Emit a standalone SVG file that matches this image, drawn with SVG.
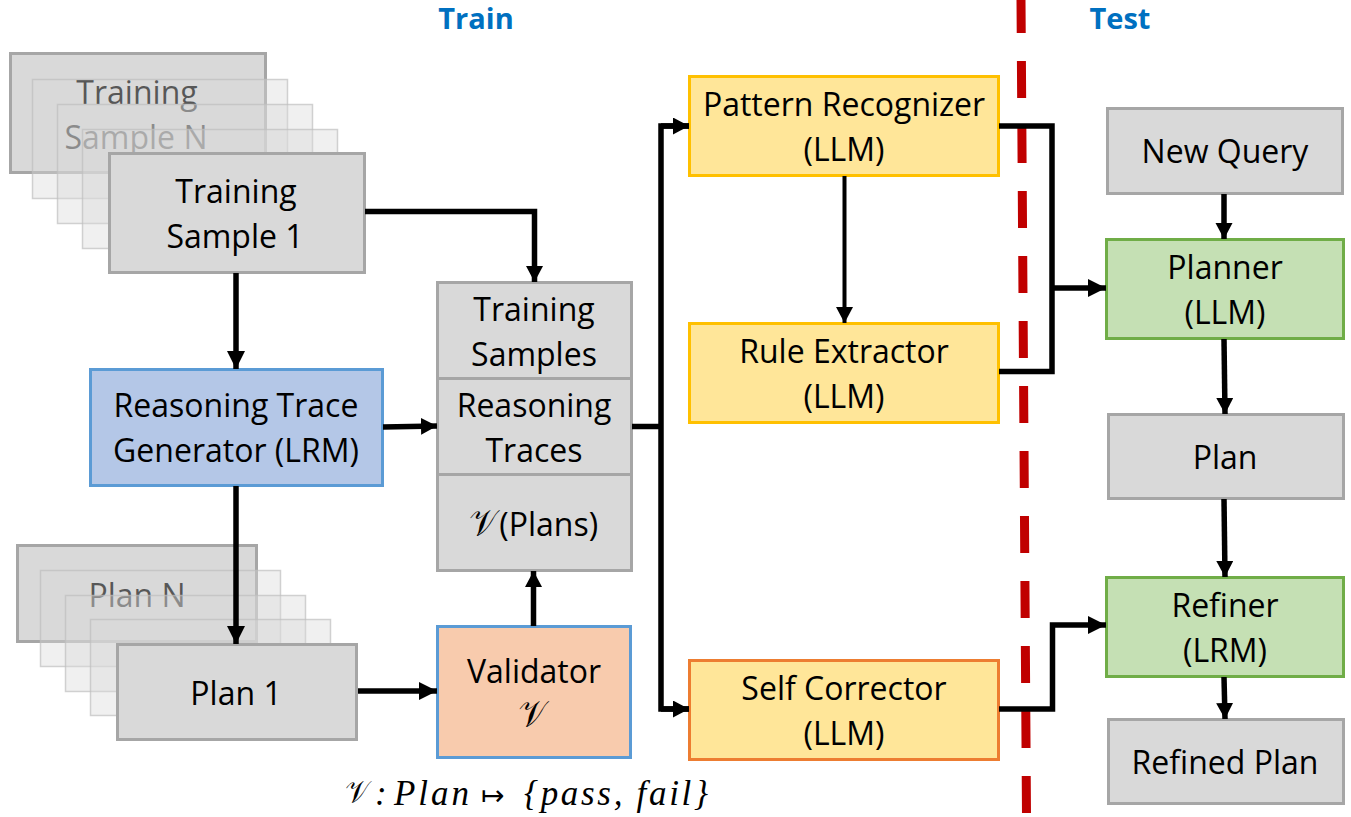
<svg xmlns="http://www.w3.org/2000/svg" width="1351" height="817" viewBox="0 0 1351 817">
<style>
text{font-family:"Open Sans","Noto Sans","Liberation Sans",sans-serif;font-size:32px;fill:#000;text-anchor:middle}
.g{fill:#d9d9d9;stroke:#a6a6a6;stroke-width:3}
.ghost{fill:#d9d9d9;fill-opacity:.4;stroke:#bfbfbf;stroke-opacity:.7;stroke-width:1.5}
.b{fill:#b4c7e7;stroke:#5b9bd5;stroke-width:3}
.o{fill:#f8cbad;stroke:#5b9bd5;stroke-width:3}
.y{fill:#ffe699;stroke:#ffc000;stroke-width:3}
.yo{fill:#ffe699;stroke:#ed7d31;stroke-width:3}
.gr{fill:#c5e0b4;stroke:#70ad47;stroke-width:3}
.h{font-weight:700;fill:#0070c0;font-size:29px}
.v{font-family:"Noto Sans Math","DejaVu Serif",serif;font-size:36px}
text.f{font-family:"Liberation Serif",serif;font-style:italic;font-size:35px;text-anchor:start}
text.n{font-family:"DejaVu Sans",sans-serif;font-size:28px;text-anchor:start}
text.vf{font-family:"Noto Sans Math","DejaVu Serif",serif;font-size:31px;text-anchor:start}
.c{fill:none;stroke:#000;stroke-width:5.500}
.c4{fill:none;stroke:#000;stroke-width:4}
</style>
<defs>
<marker id="a" markerUnits="userSpaceOnUse" markerWidth="20" markerHeight="20" refX="18" refY="9" orient="auto"><path d="M0 0L18 9L0 18Z" fill="#000"/></marker>
<marker id="s" markerUnits="userSpaceOnUse" markerWidth="18" markerHeight="18" refX="16" refY="8.500" orient="auto"><path d="M0 0L16 8.500L0 17Z" fill="#000"/></marker>
</defs>
<text class="h" x="476" y="29">Train</text>
<text class="h" x="1120" y="29">Test</text>

<g id="training-sample-n">
<rect class="g" x="10.500" y="53.500" width="255" height="119"/>
<text x="137" y="104">Training</text>
<text x="136" y="149">Sample N</text>
<rect class="ghost" x="32.500" y="79.500" width="255" height="119"/>
<rect class="ghost" x="57.500" y="104.500" width="255" height="119"/>
<rect class="ghost" x="82.500" y="129.500" width="255" height="119"/>
</g>
<g id="training-sample-1">
<rect class="g" x="109.500" y="153.500" width="255" height="119"/>
<text x="236" y="203">Training</text>
<text x="235" y="248">Sample 1</text>
</g>
<g id="plan-n">
<rect class="g" x="17.500" y="545.500" width="239" height="96"/>
<text x="137" y="607">Plan N</text>
<rect class="ghost" x="40.500" y="570.500" width="240" height="96"/>
<rect class="ghost" x="65.500" y="595.500" width="240" height="96"/>
<rect class="ghost" x="90.500" y="619.500" width="240" height="96"/>
</g>
<g id="plan-1">
<rect class="g" x="117.500" y="644.500" width="239" height="95"/>
<text x="236" y="705">Plan 1</text>
</g>
<g id="reasoning-trace-generator">
<rect class="b" x="90.500" y="369.500" width="292" height="116"/>
<text x="236" y="417">Reasoning Trace</text>
<text x="236" y="462">Generator (LRM)</text>
</g>
<g id="training-samples">
<rect class="g" x="437.500" y="282.500" width="194" height="96"/>
<text x="534" y="321">Training</text>
<text x="534" y="366">Samples</text>
</g>
<g id="reasoning-traces">
<rect class="g" x="437.500" y="378.500" width="194" height="96"/>
<text x="534" y="417">Reasoning</text>
<text x="534" y="462">Traces</text>
</g>
<g id="v-plans">
<rect class="g" x="437.500" y="474.500" width="194" height="96"/>
<text x="534" y="536"><tspan class="v">𝒱</tspan>(Plans)</text>
</g>
<g id="validator">
<rect class="o" x="437.500" y="626.500" width="193" height="131"/>
<text x="534" y="683">Validator</text>
<text class="v" x="534" y="727">𝒱</text>
</g>
<g id="validator-formula">
<text class="vf" x="346" y="803">𝒱</text>
<text class="f" x="375" y="805">:</text>
<text class="f" x="394" y="805" textLength="75" lengthAdjust="spacing">Plan</text>
<text class="n" x="481" y="805">↦</text>
<text class="f" x="524" y="805" textLength="184" lengthAdjust="spacing">{pass, fail}</text>
</g>
<g id="pattern-recognizer">
<rect class="y" x="689.500" y="76.500" width="309" height="99"/>
<text x="844" y="116">Pattern Recognizer</text>
<text x="844" y="161">(LLM)</text>
</g>
<g id="rule-extractor">
<rect class="y" x="689.500" y="323.500" width="309" height="99"/>
<text x="844" y="363">Rule Extractor</text>
<text x="844" y="408">(LLM)</text>
</g>
<g id="self-corrector">
<rect class="yo" x="689.500" y="660.500" width="309" height="99"/>
<text x="844" y="700">Self Corrector</text>
<text x="844" y="745">(LLM)</text>
</g>
<path id="divider" d="M1021 0L1026.500 817" fill="none" stroke="#c00000" stroke-width="9" stroke-dasharray="37 28" stroke-dashoffset="4"/>
<g id="new-query">
<rect class="g" x="1107.500" y="108.500" width="235" height="85"/>
<text x="1225" y="163">New Query</text>
</g>
<g id="planner">
<rect class="gr" x="1106.500" y="239.500" width="237" height="99"/>
<text x="1225" y="279">Planner</text>
<text x="1225" y="324">(LLM)</text>
</g>
<g id="plan">
<rect class="g" x="1108.500" y="414.500" width="235" height="84"/>
<text x="1225" y="469">Plan</text>
</g>
<g id="refiner">
<rect class="gr" x="1106.500" y="577.500" width="237" height="99"/>
<text x="1225" y="617">Refiner</text>
<text x="1225" y="662">(LRM)</text>
</g>
<g id="refined-plan">
<rect class="g" x="1108.500" y="719.500" width="235" height="84"/>
<text x="1225" y="774">Refined Plan</text>
</g>
<g id="connectors">
<path class="c" d="M236 273V369" marker-end="url(#a)"/>
<path class="c" d="M365 211.500H534.500V282" marker-end="url(#s)"/>
<path class="c" d="M383 427L437 426" marker-end="url(#s)"/>
<path class="c" d="M236 486V644" marker-end="url(#a)"/>
<path class="c" d="M358 691H437" marker-end="url(#a)"/>
<path class="c" d="M533.500 626V571" marker-end="url(#s)"/>
<path class="c" d="M632 426.500H661"/>
<path class="c" d="M689 126H661V709H689"/>
<path class="c" d="M661 126H689" marker-end="url(#s)"/>
<path class="c" d="M661 709H689" marker-end="url(#s)"/>
<path class="c4" d="M844.500 176V323" marker-end="url(#s)"/>
<path class="c" d="M999 126H1052V371.500H999"/>
<path class="c" d="M1052 288H1106" marker-end="url(#a)"/>
<path class="c" d="M999 709H1052.500V625H1106" marker-end="url(#a)"/>
<path class="c" d="M1224 194V239" marker-end="url(#s)"/>
<path class="c" d="M1224 339L1225 414" marker-end="url(#s)"/>
<path class="c" d="M1224 499L1225 577" marker-end="url(#s)"/>
<path class="c" d="M1224 677L1225 719" marker-end="url(#s)"/>
</g>
</svg>
